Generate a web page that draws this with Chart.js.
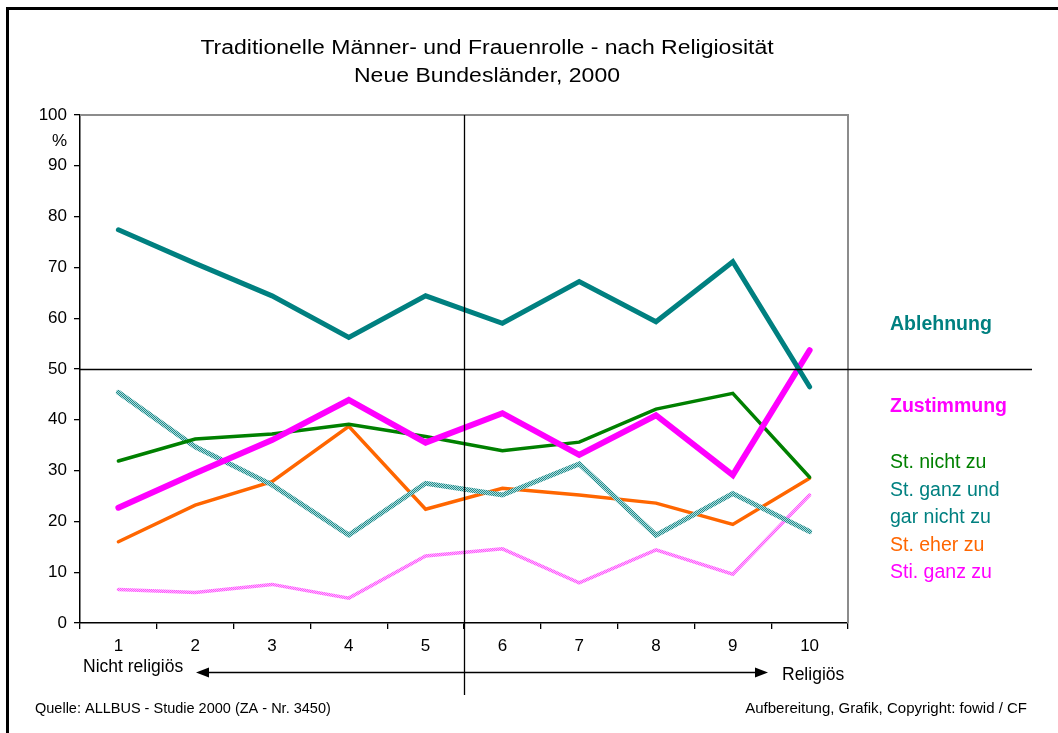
<!DOCTYPE html>
<html>
<head>
<meta charset="utf-8">
<script src="https://cdn.jsdelivr.net/npm/chart.js@4/dist/chart.umd.min.js"></script>
<style>
  html, body { margin: 0; padding: 0; background: #ffffff; }
  canvas { display: block; }
</style>
</head>
<body>
<canvas id="c" width="1058" height="733"></canvas>
<script>
// ---- data ----
const categories = ['1', '2', '3', '4', '5', '6', '7', '8', '9', '10'];
const ablehnung = [77.4, 70.8, 64.4, 56.2, 64.4, 59.0, 67.2, 59.3, 71.1, 46.5];
const zustimmung = [22.7, 29.5, 36.0, 43.9, 35.5, 41.3, 33.1, 40.9, 29.1, 53.7];
const stNichtZu = [31.9, 36.2, 37.2, 39.1, 36.7, 33.9, 35.6, 42.1, 45.2, 28.7];
const stGanzUndGarNichtZu = [45.4, 34.7, 27.2, 17.3, 27.5, 25.2, 31.3, 17.3, 25.5, 18.0];
const stEherZu = [16.0, 23.2, 27.8, 38.7, 22.4, 26.5, 25.2, 23.6, 19.4, 28.5];
const stiGanzZu = [6.6, 6.0, 7.6, 4.9, 13.2, 14.6, 7.9, 14.4, 9.6, 25.2];
const yTickValues = [0, 10, 20, 30, 40, 50, 60, 70, 80, 90, 100];

const titleLines = ['Traditionelle Männer- und Frauenrolle - nach Religiosität', 'Neue Bundesländer, 2000'];
const legendItems = [
  { text: 'Ablehnung', color: '#008080', bold: true },
  { text: 'Zustimmung', color: '#FF00FF', bold: true },
  { text: 'St. nicht zu', color: '#008000' },
  { text: 'St. ganz und', color: '#008080' },
  { text: 'gar nicht zu', color: '#008080' },
  { text: 'St. eher zu', color: '#FF6600' },
  { text: 'Sti. ganz zu', color: '#FF00FF' }
];
const FONT = '"Liberation Sans", Arial, Helvetica, sans-serif';

function makePattern(c1, c2) {
  const p = document.createElement('canvas');
  p.width = 2; p.height = 2;
  const g = p.getContext('2d');
  g.fillStyle = c2; g.fillRect(0, 0, 2, 2);
  g.fillStyle = c1; g.fillRect(0, 0, 1, 1); g.fillRect(1, 1, 1, 1);
  return document.getElementById('c').getContext('2d').createPattern(p, 'repeat');
}
const tealPattern = makePattern('#208C8C', '#B0DCDC');
const pinkPattern = makePattern('#FF55FF', '#FFB8FF');

function stretchText(ctx, text, x, y, font, align, sx) {
  ctx.save();
  ctx.font = font;
  ctx.textAlign = align;
  ctx.translate(x, y);
  ctx.scale(sx, 1);
  ctx.fillText(text, 0, 0);
  ctx.restore();
}

const decor = {
  id: 'decor',
  beforeDraw(chart) {
    const ctx = chart.ctx;
    ctx.save();
    ctx.fillStyle = '#ffffff';
    ctx.fillRect(0, 0, chart.width, chart.height);
    ctx.restore();
  },
  afterDatasetsDraw(chart) {
    const ctx = chart.ctx;
    const a = chart.chartArea;
    const xs = chart.scales.x, ys = chart.scales.y;
    ctx.save();
    ctx.strokeStyle = '#8c8c8c';
    ctx.lineWidth = 2;
    ctx.beginPath();
    ctx.moveTo(a.left, a.top); ctx.lineTo(a.right, a.top); ctx.lineTo(a.right, a.bottom);
    ctx.stroke();
    const y50 = Math.round(ys.getPixelForValue(50)) + 0.5;
    ctx.strokeStyle = '#000000';
    ctx.lineWidth = 1.3;
    ctx.beginPath();
    ctx.moveTo(a.left, y50); ctx.lineTo(1032, y50);
    ctx.stroke();
    const xm = Math.round((xs.getPixelForValue(4) + xs.getPixelForValue(5)) / 2) + 0.5;
    ctx.beginPath();
    ctx.moveTo(xm, a.top); ctx.lineTo(xm, 695);
    ctx.stroke();
    ctx.restore();
  },
  afterDraw(chart) {
    const ctx = chart.ctx;
    ctx.save();
    ctx.fillStyle = '#000000';
    ctx.fillRect(6, 7, 3, 733);
    ctx.fillRect(6, 7, 1058, 3);
    ctx.textBaseline = 'middle';
    ctx.fillStyle = '#000000';
    stretchText(ctx, titleLines[0], 487, 48, '20px ' + FONT, 'center', 1.15);
    stretchText(ctx, titleLines[1], 487, 76, '20px ' + FONT, 'center', 1.15);
    ctx.font = '17px ' + FONT;
    ctx.textAlign = 'right';
    ctx.fillText('%', 67, 141);
    ctx.textAlign = 'left';
    const legendY = [325, 407, 463, 491, 518, 546, 573];
    legendItems.forEach((it, i) => {
      ctx.fillStyle = it.color;
      ctx.font = (it.bold ? 'bold 19.5px ' : '19.5px ') + FONT;
      ctx.fillText(it.text, 890, legendY[i]);
    });
    ctx.fillStyle = '#000000';
    ctx.strokeStyle = '#000000';
    ctx.font = '17.5px ' + FONT;
    ctx.textAlign = 'left';
    ctx.fillText('Nicht religiös', 83, 667);
    ctx.fillText('Religiös', 782, 675);
    const ay = 672.5;
    ctx.lineWidth = 1.5;
    ctx.beginPath();
    ctx.moveTo(206, ay); ctx.lineTo(760, ay);
    ctx.stroke();
    ctx.beginPath();
    ctx.moveTo(196, ay); ctx.lineTo(209, ay - 5); ctx.lineTo(209, ay + 5); ctx.closePath();
    ctx.fill();
    ctx.beginPath();
    ctx.moveTo(768, ay); ctx.lineTo(755, ay - 5); ctx.lineTo(755, ay + 5); ctx.closePath();
    ctx.fill();
    ctx.font = '14.5px ' + FONT;
    ctx.textAlign = 'left';
    ctx.fillText('Quelle: ALLBUS - Studie 2000 (ZA - Nr. 3450)', 35, 709);
    ctx.textAlign = 'right';
    ctx.font = '15px ' + FONT;
    ctx.fillText('Aufbereitung, Grafik, Copyright: fowid / CF', 1027, 709);
    ctx.restore();
  }
};

function ds(label, data, color, width, order) {
  return {
    label, data, borderColor: color, backgroundColor: color, borderWidth: width,
    pointRadius: 0, pointHoverRadius: 0, tension: 0, fill: false,
    borderCapStyle: 'round', borderJoinStyle: 'miter', order
  };
}

new Chart(document.getElementById('c'), {
  type: 'line',
  data: {
    labels: categories,
    datasets: [
      ds('Ablehnung', ablehnung, '#008080', 5, 1),
      ds('Zustimmung', zustimmung, '#FF00FF', 6, 2),
      ds('St. nicht zu', stNichtZu, '#008000', 3.5, 3),
      ds('St. ganz und gar nicht zu', stGanzUndGarNichtZu, tealPattern, 5, 4),
      ds('St. eher zu', stEherZu, '#FF6600', 3.5, 5),
      ds('Sti. ganz zu', stiGanzZu, pinkPattern, 3.5, 6)
    ]
  },
  options: {
    responsive: false,
    animation: false,
    devicePixelRatio: 1,
    layout: { padding: { left: 0, right: 210, top: 115, bottom: 0 } },
    plugins: { legend: { display: false }, tooltip: { enabled: false }, title: { display: false } },
    scales: {
      x: {
        type: 'category',
        offset: true,
        afterFit(s) { s.height = 110; },
        grid: { offset: true, drawOnChartArea: false, drawTicks: true, tickLength: 6, color: '#000000', lineWidth: 1.3 },
        border: { display: true, color: '#000000', width: 1.5 },
        ticks: { color: '#000000', font: { family: FONT, size: 17 }, padding: 7, maxRotation: 0, autoSkip: false }
      },
      y: {
        min: 0, max: 100,
        afterFit(s) { s.width = 80; },
        afterBuildTicks(s) { s.ticks = yTickValues.map(v => ({ value: v })); },
        grid: { drawOnChartArea: false, drawTicks: true, tickLength: 6, color: '#000000', lineWidth: 1.3 },
        border: { display: true, color: '#000000', width: 1.5 },
        ticks: { color: '#000000', font: { family: FONT, size: 17 }, padding: 7 }
      }
    }
  },
  plugins: [decor]
});
</script>
</body>
</html>
